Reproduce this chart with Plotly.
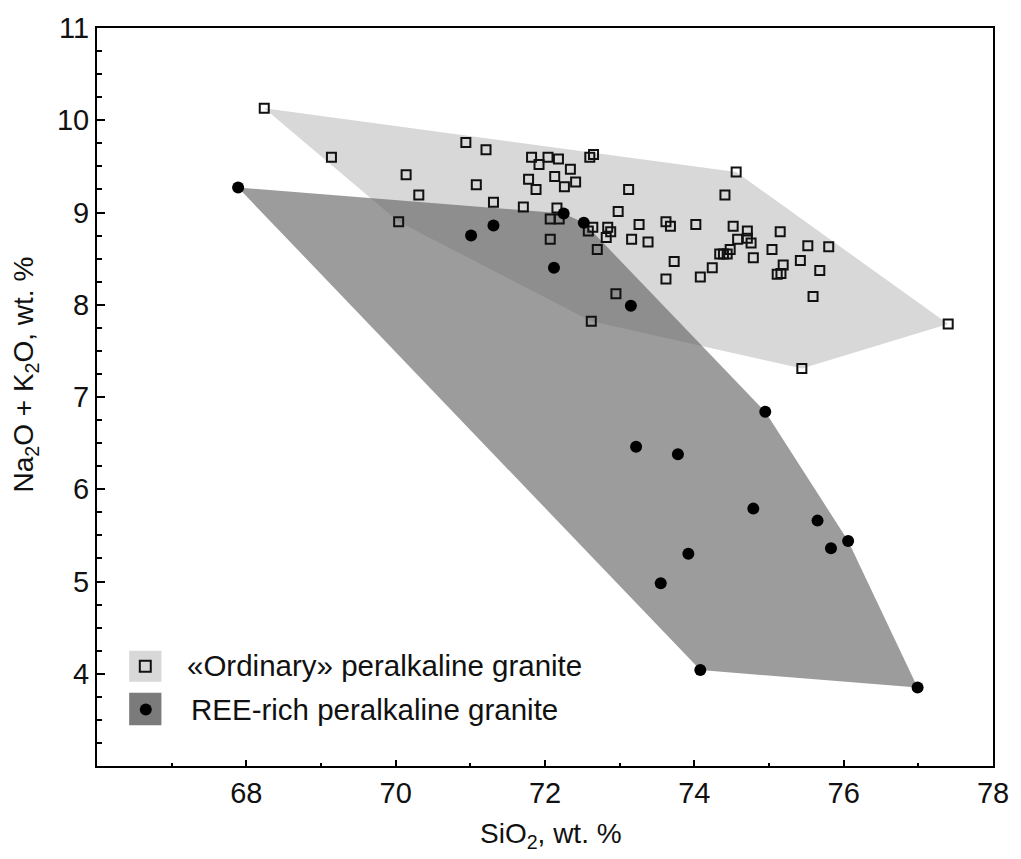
import plotly.graph_objects as go

# «Ordinary» peralkaline granite (open squares)
ord_sio2 = [68.24, 69.14, 70.14, 70.31, 70.04, 70.94, 71.21, 71.08, 71.31, 71.71,
            71.82, 71.92, 72.04, 72.18, 72.34, 72.60, 72.65, 71.78, 71.88, 72.13,
            72.26, 72.41, 72.16, 72.07, 72.19, 72.07, 72.64, 72.58, 73.12, 72.98,
            72.84, 72.88, 72.82, 72.70, 73.26, 73.16, 73.38, 73.62, 73.68, 73.73,
            73.62, 72.95, 72.62, 74.56, 74.41, 74.02, 74.52, 74.71, 74.58, 74.71,
            74.76, 74.48, 74.34, 74.39, 74.44, 74.24, 74.08, 74.79, 75.15, 75.04,
            75.19, 75.11, 75.16, 75.52, 75.42, 75.80, 75.68, 75.59, 75.44, 77.40]
ord_alk = [10.13, 9.60, 9.41, 9.19, 8.90, 9.76, 9.68, 9.30, 9.11, 9.06,
           9.60, 9.52, 9.60, 9.58, 9.47, 9.60, 9.63, 9.36, 9.25, 9.39,
           9.28, 9.33, 9.05, 8.93, 8.93, 8.71, 8.84, 8.80, 9.25, 9.01,
           8.84, 8.79, 8.73, 8.60, 8.87, 8.71, 8.68, 8.90, 8.85, 8.47,
           8.28, 8.12, 7.82, 9.44, 9.19, 8.87, 8.85, 8.80, 8.71, 8.72,
           8.67, 8.60, 8.55, 8.55, 8.55, 8.40, 8.30, 8.51, 8.79, 8.60,
           8.43, 8.33, 8.34, 8.64, 8.48, 8.63, 8.37, 8.09, 7.31, 7.79]

# REE-rich peralkaline granite (filled circles)
ree_sio2 = [67.89, 71.01, 71.31, 72.25, 72.52, 72.12, 73.15, 74.95, 73.22, 73.78,
            74.79, 75.65, 76.06, 75.83, 73.92, 73.55, 74.08, 76.99]
ree_alk = [9.27, 8.75, 8.86, 8.99, 8.89, 8.40, 7.99, 6.84, 6.46, 6.38,
           5.79, 5.66, 5.44, 5.36, 5.30, 4.98, 4.04, 3.85]

x_ticks = [68, 70, 72, 74, 76, 78]
x_minor = [67, 69, 71, 73, 75, 77]
y_ticks = [4, 5, 6, 7, 8, 9, 10, 11]

LIGHT = "#d8d8d8"
DARK_FILL = "rgba(100,100,100,0.64)"
FONT = "Liberation Sans, Arial, sans-serif"


def hull(xs, ys):
    pts = sorted(set(zip(xs, ys)))

    def cross(o, a, b):
        return (a[0] - o[0]) * (b[1] - o[1]) - (a[1] - o[1]) * (b[0] - o[0])

    lower, upper = [], []
    for p in pts:
        while len(lower) >= 2 and cross(lower[-2], lower[-1], p) <= 0:
            lower.pop()
        lower.append(p)
    for p in reversed(pts):
        while len(upper) >= 2 and cross(upper[-2], upper[-1], p) <= 0:
            upper.pop()
        upper.append(p)
    h = lower[:-1] + upper[:-1]
    h.append(h[0])
    return [p[0] for p in h], [p[1] for p in h]


fig = go.Figure()
hx, hy = hull(ord_sio2, ord_alk)
fig.add_trace(go.Scatter(x=hx, y=hy, mode="lines", fill="toself", fillcolor=LIGHT,
                         line=dict(width=0), hoverinfo="skip", showlegend=False))
hx, hy = hull(ree_sio2, ree_alk)
fig.add_trace(go.Scatter(x=hx, y=hy, mode="lines", fill="toself", fillcolor=DARK_FILL,
                         line=dict(width=0), hoverinfo="skip", showlegend=False))
fig.add_trace(go.Scatter(x=ord_sio2, y=ord_alk, mode="markers", showlegend=False,
                         marker=dict(symbol="square-open", size=9, color="#111",
                                     line=dict(width=2, color="#111"))))
fig.add_trace(go.Scatter(x=ree_sio2, y=ree_alk, mode="markers", showlegend=False,
                         marker=dict(symbol="circle", size=12, color="#000",
                                     line=dict(width=0))))

axis_common = dict(showline=True, linecolor="black", linewidth=2, mirror=True,
                   ticks="inside", tickcolor="black", tickwidth=2, showgrid=False,
                   zeroline=False, tickfont=dict(family=FONT, size=29, color="#111"))
fig.update_xaxes(range=[66, 78], tickvals=x_ticks, ticklen=6,
                 minor=dict(tickvals=x_minor, ticks="inside", ticklen=3,
                            tickwidth=2, tickcolor="black", showgrid=False),
                 **axis_common)
fig.update_yaxes(range=[3, 11], tickvals=y_ticks, ticklen=8,
                 minor=dict(dtick=0.25, tick0=3, ticks="inside", ticklen=5,
                            tickwidth=2, tickcolor="black", showgrid=False),
                 **axis_common)

# legend (drawn manually to match the boxed symbols)
shapes = [
    dict(type="rect", xref="paper", yref="paper", x0=0.0359, x1=0.0719, y0=0.114, y1=0.156,
         fillcolor=LIGHT, line=dict(width=0), layer="above"),
    dict(type="rect", xref="paper", yref="paper", x0=0.0359, x1=0.0719, y0=0.0551, y1=0.0991,
         fillcolor="#7b7b7b", line=dict(width=0), layer="above"),
    dict(type="rect", xref="paper", yref="paper", x0=(140 - 97) / 900, x1=(151 - 97) / 900,
         y0=(766 - 671) / 744, y1=(766 - 660) / 744, fillcolor="rgba(0,0,0,0)",
         line=dict(width=2, color="#111"), layer="above"),
    dict(type="circle", xref="paper", yref="paper", x0=(140 - 97) / 900, x1=(152 - 97) / 900,
         y0=(766 - 715) / 744, y1=(766 - 703) / 744, fillcolor="#000",
         line=dict(width=0), layer="above"),
]
annotations = [
    dict(text="«Ordinary» peralkaline granite", xref="paper", yref="paper",
         x=(185 - 97) / 900, y=(766 - 665) / 744, xanchor="left", yanchor="middle",
         showarrow=False, font=dict(family=FONT, size=29.5, color="#111")),
    dict(text="REE-rich peralkaline granite", xref="paper", yref="paper",
         x=(189 - 97) / 900, y=(766 - 709) / 744, xanchor="left", yanchor="middle",
         showarrow=False, font=dict(family=FONT, size=29.5, color="#111")),
    dict(text="SiO<sub>2</sub>, wt. %", xref="paper", yref="paper",
         x=(553 - 97) / 900, y=(766 - 836) / 744, xanchor="center", yanchor="middle",
         showarrow=False, font=dict(family=FONT, size=28, color="#111")),
    dict(text="Na<sub>2</sub>O + K<sub>2</sub>O, wt. %", xref="paper", yref="paper",
         x=(25 - 97) / 900, y=(766 - 371) / 744, xanchor="center", yanchor="middle",
         textangle=-90, showarrow=False, font=dict(family=FONT, size=28, color="#111")),
]

fig.update_layout(width=1021, height=859, margin=dict(l=97, r=24, t=22, b=93),
                  paper_bgcolor="white", plot_bgcolor="white",
                  shapes=shapes, annotations=annotations, showlegend=False)

fig.write_html("out.html")
